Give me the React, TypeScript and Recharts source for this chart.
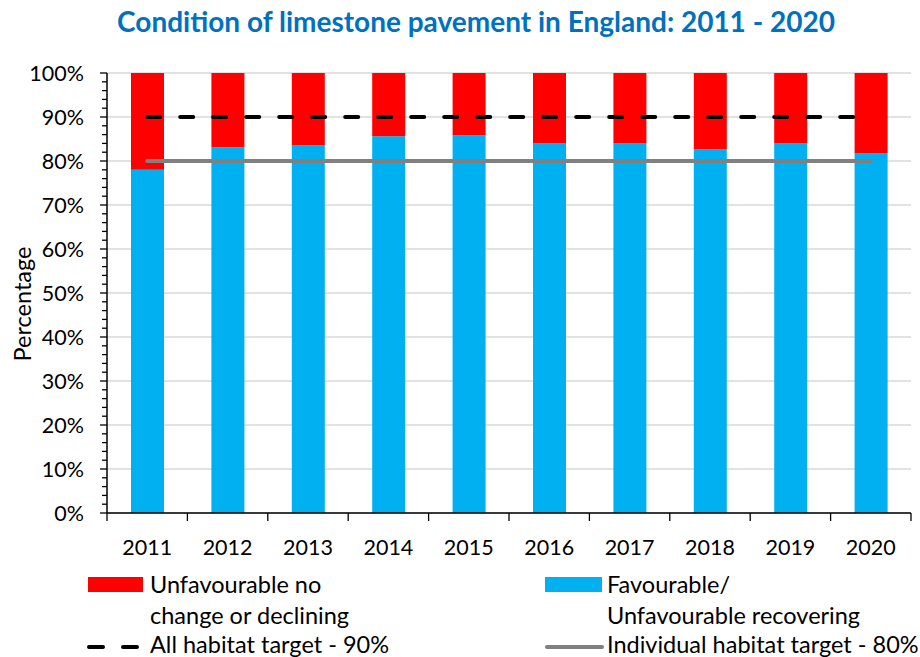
import { ComposedChart, Bar, Line, XAxis, YAxis, CartesianGrid } from 'recharts';

const years = ['2011', '2012', '2013', '2014', '2015', '2016', '2017', '2018', '2019', '2020'];
const favourable = [78.0, 83.1, 83.5, 85.6, 85.8, 84.0, 84.0, 82.7, 84.0, 81.7];
const unfavourable = [22.0, 16.9, 16.5, 14.4, 14.2, 16.0, 16.0, 17.3, 16.0, 18.3];
const allHabitatTarget = [90, 90, 90, 90, 90, 90, 90, 90, 90, 90];
const individualTarget = [80, 80, 80, 80, 80, 80, 80, 80, 80, 80];
const yTicks = [0, 2, 4, 6, 8, 10, 12, 14, 16, 18, 20, 22, 24, 26, 28, 30, 32, 34, 36, 38, 40, 42, 44, 46, 48, 50, 52, 54, 56, 58, 60, 62, 64, 66, 68, 70, 72, 74, 76, 78, 80, 82, 84, 86, 88, 90, 92, 94, 96, 98, 100];
const gridValues = [0, 10, 20, 30, 40, 50, 60, 70, 80, 90, 100];

const data = years.map((year, i) => ({
  year,
  favourable: favourable[i],
  unfavourable: unfavourable[i],
  allTarget: allHabitatTarget[i],
  indTarget: individualTarget[i],
}));

const FONT = 'Lato, "Open Sans", sans-serif';
const BLUE = '#00B0F0';
const RED = '#FF0000';
const GREY = '#808080';
const PLOT_LEFT = 107;
const PLOT_RIGHT = 911;
const BAND = (PLOT_RIGHT - PLOT_LEFT) / years.length;
const TICK_FONT = 21.5;
const LEGEND_FONT = 23.5;

// y ticks: long tick + label on every 10%, short tick on every 2%
const YTick = (props: any) => {
  const { x, y, payload } = props;
  const axisX = x + 23;
  const major = payload.value % 10 === 0;
  return (
    <g>
      <line x1={axisX - (major ? 7 : 5)} x2={axisX} y1={y} y2={y} stroke="#000" strokeWidth={1.3} />
      {major && (
        <text x={x} y={y} dy={7.7} textAnchor="end" fill="#000" fontSize={TICK_FONT} fontFamily={FONT}>
          {`${payload.value}%`}
        </text>
      )}
    </g>
  );
};

// x ticks sit on the category boundaries, labels in the middle
const XTick = (props: any) => {
  const { x, y, payload, index } = props;
  const axisY = y - 8;
  return (
    <g>
      <line x1={x - BAND / 2} x2={x - BAND / 2} y1={axisY} y2={axisY + 8} stroke="#000" strokeWidth={1.3} />
      {index === years.length - 1 && (
        <line x1={x + BAND / 2} x2={x + BAND / 2} y1={axisY} y2={axisY + 8} stroke="#000" strokeWidth={1.3} />
      )}
      <text x={x} y={axisY + 42} textAnchor="middle" fill="#000" fontSize={TICK_FONT} fontFamily={FONT}>
        {payload.value}
      </text>
    </g>
  );
};

const legendText: React.CSSProperties = {
  position: 'absolute',
  fontSize: LEGEND_FONT,
  fontFamily: FONT,
  color: '#000',
  lineHeight: '24px',
  whiteSpace: 'nowrap',
};

export default function App() {
  return (
    <div style={{ position: 'absolute', left: 0, top: 0, width: 920, height: 657, background: '#fff', overflow: 'hidden' }}>
      <div
        style={{
          position: 'absolute',
          left: 0,
          width: 952,
          top: 4,
          lineHeight: '34px',
          textAlign: 'center',
          color: '#0070C0',
          fontWeight: 700,
          fontSize: 28,
          fontFamily: FONT,
          whiteSpace: 'nowrap',
        }}
      >
        Condition of limestone pavement in England: 2011 - 2020
      </div>

      <ComposedChart
        width={920}
        height={657}
        data={data}
        margin={{ top: 73, right: 9, bottom: 0, left: 0 }}
        barSize={33}
      >
        <CartesianGrid vertical={false} stroke="#d9d9d9" strokeWidth={1.3} horizontalValues={gridValues} />
        <XAxis
          dataKey="year"
          height={144}
          tickLine={false}
          tickSize={8}
          tickMargin={0}
          axisLine={{ stroke: '#000', strokeWidth: 1.5 }}
          tick={<XTick />}
          interval={0}
        />
        <YAxis
          width={107}
          domain={[0, 100]}
          ticks={yTicks}
          interval={0}
          tickLine={false}
          tickSize={7}
          tickMargin={16}
          axisLine={{ stroke: '#000', strokeWidth: 1.5 }}
          tick={<YTick />}
        />
        <Bar dataKey="favourable" stackId="a" fill={BLUE} isAnimationActive={false} />
        <Bar dataKey="unfavourable" stackId="a" fill={RED} isAnimationActive={false} />
        <Line
          dataKey="allTarget"
          stroke="#000"
          strokeWidth={4}
          strokeDasharray="13 20"
          strokeLinecap="round"
          dot={false}
          activeDot={false}
          isAnimationActive={false}
        />
        <Line
          dataKey="indTarget"
          stroke={GREY}
          strokeWidth={4}
          strokeLinecap="round"
          dot={false}
          activeDot={false}
          isAnimationActive={false}
        />
      </ComposedChart>

      <div
        style={{
          position: 'absolute',
          left: 22,
          top: 304,
          transform: 'translate(-50%, -50%) rotate(-90deg)',
          fontSize: LEGEND_FONT,
          fontFamily: FONT,
          color: '#000',
          whiteSpace: 'nowrap',
        }}
      >
        Percentage
      </div>

      {/* legend */}
      <div style={{ position: 'absolute', left: 88, top: 577, width: 55, height: 15, background: RED }} />
      <div style={{ ...legendText, left: 150, top: 572 }}>Unfavourable no</div>
      <div style={{ ...legendText, left: 150, top: 603 }}>change or declining</div>
      <div style={{ position: 'absolute', left: 545, top: 577, width: 57, height: 15, background: BLUE }} />
      <div style={{ ...legendText, left: 607, top: 572 }}>Favourable/</div>
      <div style={{ ...legendText, left: 607, top: 603 }}>Unfavourable recovering</div>
      <svg style={{ position: 'absolute', left: 84, top: 640 }} width={64} height={14}>
        <line x1={5} x2={58} y1={7} y2={7} stroke="#000" strokeWidth={4} strokeDasharray="14 20" strokeLinecap="round" />
      </svg>
      <div style={{ ...legendText, left: 150, top: 632 }}>All habitat target - 90%</div>
      <svg style={{ position: 'absolute', left: 543, top: 640 }} width={64} height={14}>
        <line x1={4} x2={59} y1={7} y2={7} stroke={GREY} strokeWidth={4} strokeLinecap="round" />
      </svg>
      <div style={{ ...legendText, left: 607, top: 632 }}>Individual habitat target - 80%</div>
    </div>
  );
}
